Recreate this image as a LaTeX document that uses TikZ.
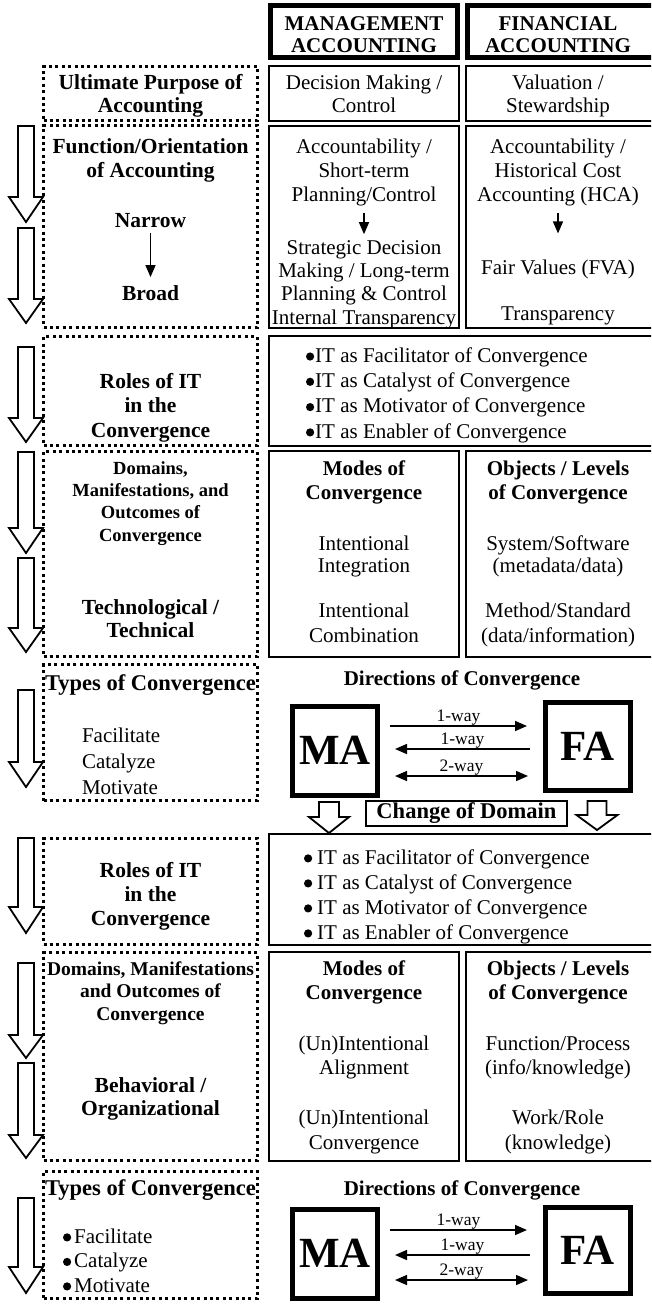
\documentclass[tikz,border=0pt]{standalone}
\usepackage{fontspec}
\setmainfont{Liberation Serif}
\usetikzlibrary{arrows.meta,fit}

% round list bullet
\newcommand\blt{\tikz[baseline=0pt]\fill (0pt,5.6pt) circle[radius=4.1pt];}
% hollow down-pointing block arrow: centre x, top, head base, tip, shaft half width, head half width
\newcommand\hollowdown[6]{%
  \draw[harrow] (#1-#5,#2) -- (#1+#5,#2) -- (#1+#5,#3) -- (#1+#6,#3) -- (#1,#4)
    -- (#1-#6,#3) -- (#1-#5,#3) -- cycle;}

\tikzset{
  every node/.style={inner sep=0pt, outer sep=0pt},
  % multi-line texts are placed by the baseline of their last line
  rtxt/.style={font=\fontsize{21}{#1}\selectfont, align=center, anchor=base},
  rtxt/.default=24,
  btxt/.style={font=\fontsize{21}{#1}\selectfont\bfseries, align=center, anchor=base},
  btxt/.default=24,
  lbtxt/.style={font=\fontsize{21.5}{#1}\selectfont\bfseries, align=center, anchor=base},
  lbtxt/.default=24,
  stxt/.style={font=\fontsize{18.5}{#1}\selectfont\bfseries, align=center, anchor=base},
  stxt/.default=22.3,
  ltxt/.style={font=\fontsize{21}{#1}\selectfont, align=left, anchor=base west},
  ltxt/.default=25.5,
  wlbl/.style={font=\fontsize{17.5}{18}\selectfont},
  bigl/.style={font=\fontsize{43}{43}\selectfont\bfseries},
  dbox/.style={draw, line width=3pt, dash pattern=on 3pt off 3.4pt},
  sbox/.style={draw, line width=2pt},
  tbox/.style={draw, line width=5pt},
  harrow/.style={draw, line width=1.8pt, fill=white, line join=miter},
  dirarr/.style={line width=1.5pt, -{Triangle[length=12pt,width=10pt]}},
  dirboth/.style={line width=1.5pt, {Triangle[length=12pt,width=10pt]}-{Triangle[length=12pt,width=10pt]}},
  smarr/.style={line width=1.4pt, -{Triangle[length=12pt,width=10pt]}},
}

\begin{document}
\begin{tikzpicture}[x=1pt,y=-1pt]
\useasboundingbox (0,0) rectangle (651,1304);
\clip (0,0) rectangle (651,1304);
\fill[white] (0,0) rectangle (651,1304);

% column headers
\node[tbox, fit={(270.5,5.5) (457.5,57.5)}] (hMA) {};
\node[tbox, fit={(467.5,5.5) (662,57.5)}] (hFA) {};
\node[btxt=22] (hMAt) at (364,52) {MANAGEMENT\\ACCOUNTING};
\node[btxt=22] (hFAt) at (558,52) {FINANCIAL\\ACCOUNTING};

% dotted row labels
\node[dbox, fit={(43.5,66.5) (257.5,120.5)}] (dUlt) {};
\node[dbox, fit={(43.5,125.5) (257.5,327.5)}] (dFun) {};
\node[dbox, fit={(43.5,336.5) (257.5,445.5)}] (dRo1) {};
\node[dbox, fit={(43.5,451.5) (257.5,656.5)}] (dDo1) {};
\node[dbox, fit={(43.5,664.5) (257.5,800.5)}] (dTy1) {};
\node[dbox, fit={(43.5,838.5) (257.5,944.5)}] (dRo2) {};
\node[dbox, fit={(43.5,952.5) (257.5,1160.5)}] (dDo2) {};
\node[dbox, fit={(43.5,1171.5) (257.5,1298.5)}] (dTy2) {};

% solid content boxes
\node[sbox, fit={(269,66) (459,121)}] (mUlt) {};
\node[sbox, fit={(466,66) (662,121)}] (fUlt) {};
\node[sbox, fit={(269,126) (459,328)}] (mFun) {};
\node[sbox, fit={(466,126) (662,328)}] (fFun) {};
\node[sbox, fit={(269,336) (662,446)}] (ro1) {};
\node[sbox, fit={(269,451) (459,657)}] (mDo1) {};
\node[sbox, fit={(466,451) (662,657)}] (fDo1) {};
\node[sbox, fit={(269,834) (662,945)}] (ro2) {};
\node[sbox, fit={(269,952) (459,1161)}] (mDo2) {};
\node[sbox, fit={(466,952) (662,1161)}] (fDo2) {};

% left column texts
\node[lbtxt=23] (tUlt) at (150.5,112) {Ultimate Purpose of\\Accounting};
\node[lbtxt=24] (tFun) at (150.5,177) {Function/Orientation\\of Accounting};
\node[lbtxt] (tNar) at (150.5,227) {Narrow};
\node[lbtxt] (tBro) at (150.5,300) {Broad};
\draw[smarr, shorten <=6pt, shorten >=8pt] (tNar.south) -- (tBro.north);
\node[lbtxt=24.5] (tRo1) at (150.5,437) {Roles of IT\\in the\\Convergence};
\node[stxt=22.3] (tDo1) at (150.5,541) {Domains,\\Manifestations, and\\Outcomes of\\Convergence};
\node[lbtxt=23] (tTech) at (150.5,637) {Technological /\\Technical};
\node[lbtxt, font=\fontsize{22.5}{24}\selectfont\bfseries] (tTy1) at (150.5,690) {Types of Convergence};
\node[ltxt=26] (tTy1i) at (82,794) {Facilitate\\Catalyze\\Motivate};
\node[lbtxt=24] (tRo2) at (150.5,925) {Roles of IT\\in the\\Convergence};
\node[stxt=22.5, font=\fontsize{19.5}{22.5}\selectfont\bfseries] (tDo2) at (150.5,1020) {Domains, Manifestations\\and Outcomes of\\Convergence};
\node[lbtxt=23] (tBeh) at (150.5,1115) {Behavioral /\\Organizational};
\node[lbtxt, font=\fontsize{22.5}{24}\selectfont\bfseries] (tTy2) at (150.5,1195) {Types of Convergence};
\node[ltxt=24.5] (tTy2i) at (63,1292) {\blt\hspace{3pt}Facilitate\\\blt\hspace{3pt}Catalyze\\\blt\hspace{3pt}Motivate};

% management accounting column
\node[rtxt=23] (mUltT) at (364,112) {Decision Making /\\Control};
\node[rtxt=24] (mFunA) at (364,201) {Accountability /\\Short-term\\Planning/Control};
\node[rtxt=23.3] (mFunB) at (364,324) {Strategic Decision\\Making / Long-term\\Planning \& Control\\Internal Transparency};
\draw[smarr, shorten <=7pt, shorten >=6pt] (mFunA.south) -- (mFunB.north);
\node[btxt=24] (mDo1a) at (364,499) {Modes of\\Convergence};
\node[rtxt=22] (mDo1b) at (364,572) {Intentional\\Integration};
\node[rtxt=25] (mDo1c) at (364,642) {Intentional\\Combination};
\node[btxt=24] (mDo2a) at (364,999) {Modes of\\Convergence};
\node[rtxt=24] (mDo2b) at (364,1074) {(Un)Intentional\\Alignment};
\node[rtxt=25] (mDo2c) at (364,1149) {(Un)Intentional\\Convergence};

% financial accounting column
\node[rtxt=23] (fUltT) at (558,112) {Valuation /\\Stewardship};
\node[rtxt=24] (fFunA) at (558,201) {Accountability /\\Historical Cost\\Accounting (HCA)};
\node[rtxt] (fFunB) at (558,274) {Fair Values (FVA)};
\node[rtxt] (fFunC) at (558,320) {Transparency};
\draw[smarr, shorten <=7pt, shorten >=26pt] (fFunA.south) -- (fFunB.north);
\node[btxt=24] (fDo1a) at (558,499) {Objects / Levels\\of Convergence};
\node[rtxt=22] (fDo1b) at (558,572) {System/Software\\(metadata/data)};
\node[rtxt=25] (fDo1c) at (558,642) {Method/Standard\\(data/information)};
\node[btxt=24] (fDo2a) at (558,999) {Objects / Levels\\of Convergence};
\node[rtxt=24] (fDo2b) at (558,1074) {Function/Process\\(info/knowledge)};
\node[rtxt=25] (fDo2c) at (558,1149) {Work/Role\\(knowledge)};

% roles of IT
\node[ltxt=25.3] (ro1t) at (306,438) {\blt\hspace{1pt}IT as Facilitator of Convergence\\\blt\hspace{1pt}IT as Catalyst of Convergence\\\blt\hspace{1pt}IT as Motivator of Convergence\\\blt\hspace{1pt}IT as Enabler of Convergence};
\node[ltxt=25] (ro2t) at (304,939) {\blt\hspace{5pt}IT as Facilitator of Convergence\\\blt\hspace{5pt}IT as Catalyst of Convergence\\\blt\hspace{5pt}IT as Motivator of Convergence\\\blt\hspace{5pt}IT as Enabler of Convergence};

% directions of convergence, technical domain
\node[btxt] (dir1) at (462,685) {Directions of Convergence};
\node[tbox, fit={(292.5,706.5) (377.5,795)}] (ma1) {};
\node[bigl] (ma1t) at (ma1.center) {MA};
\node[tbox, fit={(545.5,702.5) (630,790.5)}] (fa1) {};
\node[bigl] (fa1t) at (fa1.center) {FA};
\draw[dirarr] ([shift={(12.5,-24.75)}]ma1.east) -- node[wlbl, above=1pt] (w11) {1-way} ([shift={(-18.5,-24.75)}]fa1.west |- ma1.center);
\draw[dirarr] ([shift={(-15.5,-1.75)}]fa1.west |- ma1.center) -- node[wlbl, above=1pt] (w12) {1-way} ([shift={(17.5,-1.75)}]ma1.east);
\draw[dirboth] ([shift={(17.5,25.25)}]ma1.east) -- node[wlbl, above=1pt] (w13) {2-way} ([shift={(-17.5,25.25)}]fa1.west |- ma1.center);

% change of domain
\node[sbox, fit={(366,801) (567,826)}] (cod) {};
\node[font=\fontsize{22.5}{24}\selectfont\bfseries] (codt) at (cod.center) {Change of Domain};
\hollowdown{329}{802}{817}{833}{10}{20}
\hollowdown{597}{801}{815}{830}{9.5}{20.5}

% directions of convergence, behavioural domain
\node[btxt] (dir2) at (462,1195) {Directions of Convergence};
\node[tbox, fit={(292.5,1209.5) (377.5,1298)}] (ma2) {};
\node[bigl] (ma2t) at (ma2.center) {MA};
\node[tbox, fit={(545.5,1207.5) (630,1293)}] (fa2) {};
\node[bigl] (fa2t) at (fa2.center) {FA};
\draw[dirarr] ([shift={(12.5,-23.75)}]ma2.east) -- node[wlbl, above=1pt] (w21) {1-way} ([shift={(-18.5,-23.75)}]fa2.west |- ma2.center);
\draw[dirarr] ([shift={(-15.5,1.25)}]fa2.west |- ma2.center) -- node[wlbl, above=1pt] (w22) {1-way} ([shift={(17.5,1.25)}]ma2.east);
\draw[dirboth] ([shift={(17.5,26.25)}]ma2.east) -- node[wlbl, above=1pt] (w23) {2-way} ([shift={(-17.5,26.25)}]fa2.west |- ma2.center);

% flow arrows down the left margin
\hollowdown{26}{126}{197}{222}{8}{17}
\hollowdown{26}{228}{299}{323}{8}{17}
\hollowdown{26}{347}{418}{442}{8}{17}
\hollowdown{26}{452}{528}{553}{8}{17}
\hollowdown{26}{558}{628}{652}{8}{17}
\hollowdown{26}{690}{762}{787}{8}{17}
\hollowdown{26}{838}{907}{933}{8}{17}
\hollowdown{26}{963}{1035}{1058}{8}{17}
\hollowdown{26}{1063}{1135}{1158}{8}{17}
\hollowdown{26}{1198}{1267}{1293}{8}{17}
\end{tikzpicture}
\end{document}
